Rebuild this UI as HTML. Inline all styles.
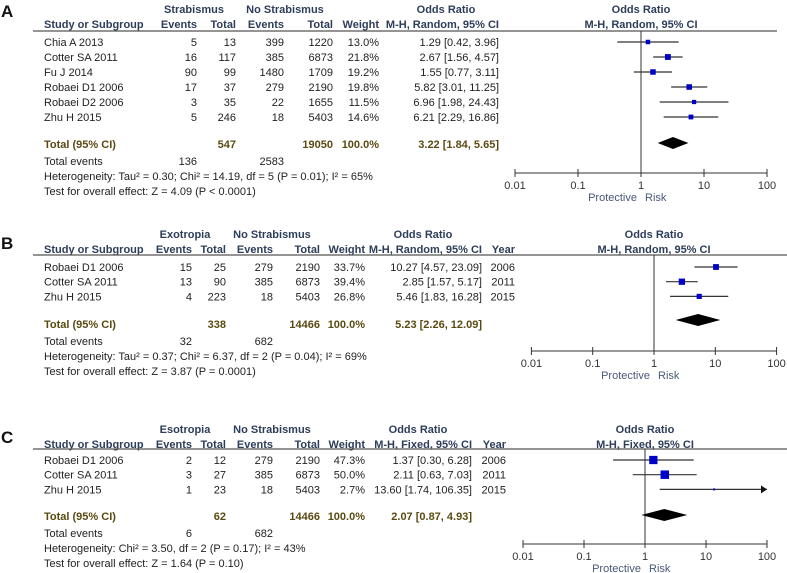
<!DOCTYPE html>
<html><head><meta charset="utf-8"><style>
html,body{margin:0;padding:0;background:#fff;width:787px;height:573px;overflow:hidden}
svg{display:block;font-family:"Liberation Sans",Arial,sans-serif}
</style></head><body>
<svg id="fig" width="787" height="573" viewBox="0 0 787 573"></svg>
<script>
// Panel A data
const aStudies=["Chia A 2013","Cotter SA 2011","Fu J 2014","Robaei D1 2006","Robaei D2 2006","Zhu H 2015"];
const aEv1=[5,16,90,17,3,5];const aTot1=[13,117,99,37,35,246];
const aEv2=[399,385,1480,279,22,18];const aTot2=[1220,6873,1709,2190,1655,5403];
const aWeight=[13.0,21.8,19.2,19.8,11.5,14.6];
const aOR=[1.29,2.67,1.55,5.82,6.96,6.21];
const aLo=[0.42,1.56,0.77,3.01,1.98,2.29];
const aHi=[3.96,4.57,3.11,11.25,24.43,16.86];
const aTotal=[3.22,1.84,5.65];
// Panel B data
const bStudies=["Robaei D1 2006","Cotter SA 2011","Zhu H 2015"];
const bEv1=[15,13,4];const bTot1=[25,90,223];
const bEv2=[279,385,18];const bTot2=[2190,6873,5403];
const bWeight=[33.7,39.4,26.8];
const bOR=[10.27,2.85,5.46];const bLo=[4.57,1.57,1.83];const bHi=[23.09,5.17,16.28];
const bYear=[2006,2011,2015];
const bTotal=[5.23,2.26,12.09];
// Panel C data
const cStudies=["Robaei D1 2006","Cotter SA 2011","Zhu H 2015"];
const cEv1=[2,3,1];const cTot1=[12,27,23];
const cEv2=[279,385,18];const cTot2=[2190,6873,5403];
const cWeight=[47.3,50.0,2.7];
const cOR=[1.37,2.11,13.60];const cLo=[0.30,0.63,1.74];const cHi=[6.28,7.03,106.35];
const cYear=[2006,2011,2015];
const cTotal=[2.07,0.87,4.93];
const tickVals=[0.01,0.1,1,10,100];
const tickLabels=["0.01","0.1","1","10","100"];

const NS="http://www.w3.org/2000/svg";
const svg=document.getElementById('fig');
function el(tag,attrs,parent){const e=document.createElementNS(NS,tag);for(const k in attrs)e.setAttribute(k,attrs[k]);(parent||svg).appendChild(e);return e;}
function txt(x,y,s,opt,parent){opt=opt||{};const t=el('text',{x:x,y:y,'font-size':opt.size||11,fill:opt.fill||'#222','text-anchor':opt.anchor||'start','font-weight':opt.bold?'bold':'normal'},parent);t.textContent=s;return t;}
function f2(v){return v.toFixed(2);}
const HEAD='#2d3d5a',TOT='#5a4a12';

function panel(P){
  const g=el('g',{});
  
  
  const L=txt(1,P.labelY,P.id,{size:17,bold:true,fill:'#111'},g);
  
  const c=P.cols;
  txt(c.g1,P.h1,P.group,{bold:true,fill:HEAD,anchor:'middle'},g);
  txt(c.g2,P.h1,'No Strabismus',{bold:true,fill:HEAD,anchor:'middle'},g);
  txt(c.orC,P.h1,'Odds Ratio',{bold:true,fill:HEAD,anchor:'middle'},g);
  const h2=P.h1+15;
  const hs=[['Study or Subgroup',44,'start'],['Events',c.e1,'end'],['Total',c.t1,'end'],['Events',c.e2,'end'],['Total',c.t2,'end'],['Weight',c.w,'end'],[P.method,c.or,'end']];
  if(P.year)hs.push(['Year',c.yr,'end']);
  hs.forEach(h=>txt(h[1],h2,h[0],{bold:true,fill:HEAD,anchor:h[2]},g));
  el('line',{x1:33,x2:P.lineEnd,y1:P.lineY,y2:P.lineY,stroke:'#555','stroke-width':1.3},g);
  P.studies.forEach((s,i)=>{
    const y=P.row0+i*P.dy;
    const r=el('g',{},g);
    
    txt(44,y,s,{},r);
    txt(c.e1,y,P.ev1[i],{anchor:'end'},r);txt(c.t1,y,P.tot1[i],{anchor:'end'},r);
    txt(c.e2,y,P.ev2[i],{anchor:'end'},r);txt(c.t2,y,P.tot2[i],{anchor:'end'},r);
    txt(c.w,y,P.weight[i].toFixed(1)+'%',{anchor:'end'},r);
    txt(c.or,y,f2(P.or[i])+' ['+f2(P.lo[i])+', '+f2(P.hi[i])+']',{anchor:'end'},r);
    if(P.year)txt(c.yr,y,P.year[i],{anchor:'end'},r);
  });
  const ty=P.totY;
  txt(44,ty,'Total (95% CI)',{bold:true,fill:TOT},g);
  txt(c.t1,ty,P.tot1.reduce((a,b)=>a+b,0),{bold:true,fill:TOT,anchor:'end'},g);
  txt(c.t2,ty,P.tot2.reduce((a,b)=>a+b,0),{bold:true,fill:TOT,anchor:'end'},g);
  txt(c.w,ty,'100.0%',{bold:true,fill:TOT,anchor:'end'},g);
  txt(c.or,ty,f2(P.total[0])+' ['+f2(P.total[1])+', '+f2(P.total[2])+']',{bold:true,fill:TOT,anchor:'end'},g);
  txt(44,ty+17,'Total events',{},g);
  txt(c.e1,ty+17,P.ev1.reduce((a,b)=>a+b,0),{anchor:'end'},g);
  txt(c.e2,ty+17,P.ev2.reduce((a,b)=>a+b,0),{anchor:'end'},g);
  txt(44,ty+32,P.het,{},g);
  txt(44,ty+47,P.test,{},g);
  // plot
  const X=v=>P.x1+(Math.log10(v)-0)*P.dec;
  const ax=P.axisY;
  txt(X(1),P.h1,'Odds Ratio',{bold:true,fill:HEAD,anchor:'middle'},g);
  txt(X(1),h2,P.method,{bold:true,fill:HEAD,anchor:'middle'},g);
  el('line',{x1:X(1),x2:X(1),y1:P.lineY,y2:ax,stroke:'#333','stroke-width':1},g);
  const axis=el('g',{},g);
  
  el('line',{x1:X(0.01),x2:X(100),y1:ax,y2:ax,stroke:'#333','stroke-width':1},axis);
  tickVals.forEach((v,i)=>{el('line',{x1:X(v),x2:X(v),y1:ax-4,y2:ax+4,stroke:'#333'},axis);txt(X(v),ax+16,tickLabels[i],{anchor:'middle',fill:'#333'},axis);});
  txt(X(1)-4,ax+28,'Protective',{anchor:'end',fill:'#4a5878'},axis);
  txt(X(1)+4,ax+28,'Risk',{anchor:'start',fill:'#4a5878'},axis);
  P.studies.forEach((s,i)=>{
    const y=P.row0+i*P.dy-4;
    const lo=Math.max(P.lo[i],0.01),hi=Math.min(P.hi[i],100);
    const ln=el('line',{x1:X(lo),x2:X(hi),y1:y,y2:y,stroke:'#333','stroke-width':1.2},g);
    
    if(P.hi[i]>100){const a=el('path',{d:`M${X(100)},${y} l-6,-4 v8 z`,fill:'#111'},g);}
    const sz=Math.max(1.5,P.sq*Math.sqrt(P.weight[i]));
    const r=el('rect',{x:X(P.or[i])-sz/2,y:y-sz/2,width:sz,height:sz,fill:'#0000c8'},g);
    
  });
  const dy=P.diaY;
  const d=el('path',{d:`M${X(P.total[1])},${dy} L${X(P.total[0])},${dy-6} L${X(P.total[2])},${dy} L${X(P.total[0])},${dy+6} Z`,fill:'#000'},g);
  
}

panel({id:'A',labelY:17,group:'Strabismus',method:'M-H, Random, 95% CI',h1:13,lineY:31,lineEnd:777,row0:46,dy:15,totY:148,
 cols:{g1:194,g2:285,orC:446,e1:197,t1:236,e2:284,t2:333,w:379,or:499},
 studies:aStudies,ev1:aEv1,tot1:aTot1,ev2:aEv2,tot2:aTot2,weight:aWeight,or:aOR,lo:aLo,hi:aHi,total:aTotal,
 het:'Heterogeneity: Tau² = 0.30; Chi² = 14.19, df = 5 (P = 0.01); I² = 65%',test:'Test for overall effect: Z = 4.09 (P < 0.0001)',
 x1:641,dec:63,axisY:173,diaY:143,sq:1.25});
panel({id:'B',labelY:249,group:'Exotropia',method:'M-H, Random, 95% CI',h1:238,lineY:255,lineEnd:787,row0:271,dy:14.7,totY:328,
 cols:{g1:185,g2:272,orC:423,e1:192,t1:226,e2:273,t2:320,w:365,or:482,yr:515},year:bYear,
 studies:bStudies,ev1:bEv1,tot1:bTot1,ev2:bEv2,tot2:bTot2,weight:bWeight,or:bOR,lo:bLo,hi:bHi,total:bTotal,
 het:'Heterogeneity: Tau² = 0.37; Chi² = 6.37, df = 2 (P = 0.04); I² = 69%',test:'Test for overall effect: Z = 3.87 (P = 0.0001)',
 x1:654,dec:61.3,axisY:351,diaY:320,sq:1.0});
panel({id:'C',labelY:443,group:'Esotropia',method:'M-H, Fixed, 95% CI',h1:433,lineY:449,lineEnd:787,row0:464,dy:14.7,totY:520,
 cols:{g1:185,g2:272,orC:418,e1:192,t1:226,e2:273,t2:320,w:365,or:472,yr:506},year:cYear,
 studies:cStudies,ev1:cEv1,tot1:cTot1,ev2:cEv2,tot2:cTot2,weight:cWeight,or:cOR,lo:cLo,hi:cHi,total:cTotal,
 het:'Heterogeneity: Chi² = 3.50, df = 2 (P = 0.17); I² = 43%',test:'Test for overall effect: Z = 1.64 (P = 0.10)',
 x1:645,dec:61,axisY:544,diaY:515,sq:1.2});
</script>
</body></html>
